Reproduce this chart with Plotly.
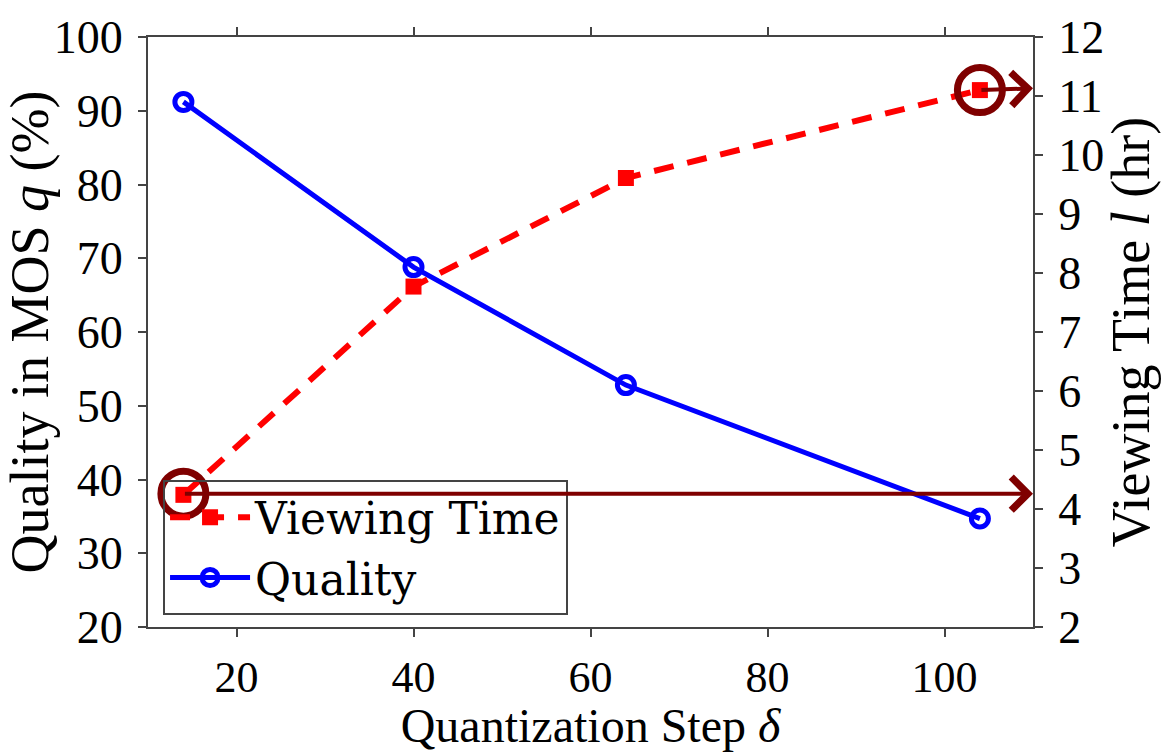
import plotly.graph_objects as go

steps = [14, 40, 64, 104]
quality = [91.2, 68.8, 52.8, 34.7]
viewing_time = [4.24, 7.77, 9.61, 11.1]

highlight_x = [14, 104]
highlight_y = [4.26, 11.1]
arrow_target_y = [4.26, 11.13]

FONT = "Liberation Serif"
FONT_LEG = "DejaVu Serif"
FS_TICK = 46
FS_XTICK = 44
FS_TITLE = 54
FS_XTITLE = 48
FS_LEG = 44
DARKRED = "#7f0000"

fig = go.Figure()

fig.add_trace(go.Scatter(
    x=steps, y=viewing_time, name="Viewing Time", yaxis="y2",
    mode="lines+markers",
    line=dict(color="#ff0000", width=6, dash="20px,14px"),
    marker=dict(symbol="square", size=16, color="#ff0000",
                line=dict(color="#ff0000", width=0)),
))
fig.add_trace(go.Scatter(
    x=steps, y=quality, name="Quality", yaxis="y",
    mode="lines+markers",
    line=dict(color="#0000ff", width=5),
    marker=dict(symbol="circle-open", size=17, color="#0000ff",
                line=dict(color="#0000ff", width=5)),
))
fig.add_trace(go.Scatter(
    x=highlight_x, y=highlight_y, yaxis="y2", mode="markers",
    showlegend=False, hoverinfo="skip",
    marker=dict(symbol="circle-open", size=45, color=DARKRED,
                line=dict(color=DARKRED, width=7)),
))

for hx, hy, ty in zip(highlight_x, highlight_y, arrow_target_y):
    fig.add_annotation(
        x=110, y=ty, xref="x", yref="y2",
        ax=hx, ay=hy, axref="x", ayref="y2",
        text="", showarrow=True, arrowhead=4, arrowsize=1.6,
        arrowwidth=4, arrowcolor=DARKRED, standoff=0, startstandoff=0,
    )

axis_common = dict(
    showline=True, linecolor="#444444", linewidth=2,
    ticks="outside", ticklen=8, tickwidth=2, tickcolor="#444444",
    showgrid=False, zeroline=False,
)

fig.update_layout(
    width=1161, height=752,
    margin=dict(l=148, r=128, t=29, b=125),
    paper_bgcolor="white", plot_bgcolor="white",
    font=dict(family=FONT, size=FS_TICK, color="black"),
    xaxis=dict(
        range=[10, 110], tickvals=[20, 40, 60, 80, 100], mirror="ticks",
        ticklabelstandoff=2,
        tickfont=dict(family=FONT, size=FS_XTICK, color="black"),
        title=dict(text="Quantization Step <i>δ</i>", standoff=0,
                   font=dict(family=FONT, size=FS_XTITLE)),
        **axis_common,
    ),
    yaxis=dict(
        range=[20, 100], dtick=10, ticklabelstandoff=6,
        tickfont=dict(family=FONT, size=FS_TICK, color="black"),
        title=dict(text="Quality in MOS <i>q</i> (%)", standoff=2,
                   font=dict(family=FONT, size=FS_TITLE)),
        **axis_common,
    ),
    yaxis2=dict(
        range=[2, 12], dtick=1, overlaying="y", side="right",
        ticklabelstandoff=6,
        tickfont=dict(family=FONT, size=FS_TICK, color="black"),
        title=dict(text="Viewing Time <i>l</i> (hr)", standoff=2,
                   font=dict(family=FONT, size=FS_TITLE)),
        **axis_common,
    ),
    legend=dict(
        x=0.017, y=0.02, xanchor="left", yanchor="bottom",
        bordercolor="#444444", borderwidth=2, bgcolor="rgba(255,255,255,0)",
        font=dict(family=FONT_LEG, size=FS_LEG), itemwidth=80,
        tracegroupgap=0,
    ),
    showlegend=True,
)

fig.write_html("out.html")
